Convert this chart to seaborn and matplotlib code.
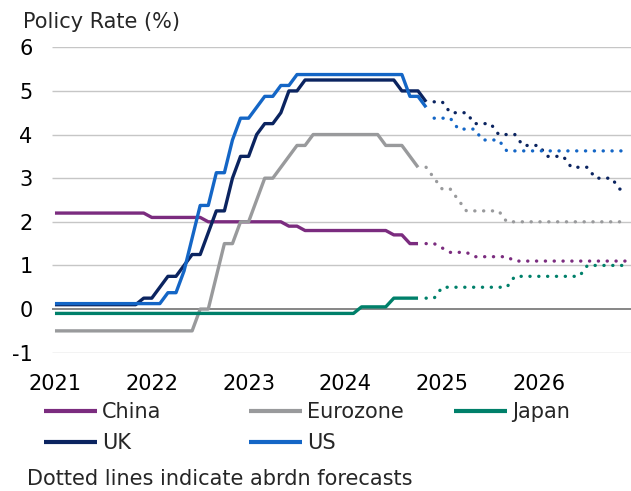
import numpy as np
import pandas as pd
import matplotlib
matplotlib.use("Agg")
import matplotlib.pyplot as plt
from matplotlib.lines import Line2D
import seaborn as sns

# Monthly policy rates, index 0 = Jan 2021
# Actual data (solid lines)
china_actual = [
    2.2, 2.2, 2.2, 2.2, 2.2, 2.2, 2.2, 2.2, 2.2, 2.2, 2.2, 2.2,   # 2021
    2.1, 2.1, 2.1, 2.1, 2.1, 2.1, 2.1, 2.0, 2.0, 2.0, 2.0, 2.0,   # 2022
    2.0, 2.0, 2.0, 2.0, 2.0, 1.9, 1.9, 1.8, 1.8, 1.8, 1.8, 1.8,   # 2023
    1.8, 1.8, 1.8, 1.8, 1.8, 1.8, 1.7, 1.7, 1.5, 1.5,             # 2024 to Oct
]
eurozone_actual = [
    -0.5, -0.5, -0.5, -0.5, -0.5, -0.5, -0.5, -0.5, -0.5, -0.5, -0.5, -0.5,
    -0.5, -0.5, -0.5, -0.5, -0.5, -0.5, 0.0, 0.0, 0.75, 1.5, 1.5, 2.0,
    2.0, 2.5, 3.0, 3.0, 3.25, 3.5, 3.75, 3.75, 4.0, 4.0, 4.0, 4.0,
    4.0, 4.0, 4.0, 4.0, 4.0, 3.75, 3.75, 3.75, 3.5, 3.25,
]
japan_actual = [
    -0.1, -0.1, -0.1, -0.1, -0.1, -0.1, -0.1, -0.1, -0.1, -0.1, -0.1, -0.1,
    -0.1, -0.1, -0.1, -0.1, -0.1, -0.1, -0.1, -0.1, -0.1, -0.1, -0.1, -0.1,
    -0.1, -0.1, -0.1, -0.1, -0.1, -0.1, -0.1, -0.1, -0.1, -0.1, -0.1, -0.1,
    -0.1, -0.1, 0.05, 0.05, 0.05, 0.05, 0.25, 0.25, 0.25, 0.25,
]
uk_actual = [
    0.1, 0.1, 0.1, 0.1, 0.1, 0.1, 0.1, 0.1, 0.1, 0.1, 0.1, 0.25,
    0.25, 0.5, 0.75, 0.75, 1.0, 1.25, 1.25, 1.75, 2.25, 2.25, 3.0, 3.5,
    3.5, 4.0, 4.25, 4.25, 4.5, 5.0, 5.0, 5.25, 5.25, 5.25, 5.25, 5.25,
    5.25, 5.25, 5.25, 5.25, 5.25, 5.25, 5.25, 5.0, 5.0, 5.0, 4.75,
]
us_actual = [
    0.125, 0.125, 0.125, 0.125, 0.125, 0.125, 0.125, 0.125, 0.125, 0.125, 0.125, 0.125,
    0.125, 0.125, 0.375, 0.375, 0.875, 1.625, 2.375, 2.375, 3.125, 3.125, 3.875, 4.375,
    4.375, 4.625, 4.875, 4.875, 5.125, 5.125, 5.375, 5.375, 5.375, 5.375, 5.375, 5.375,
    5.375, 5.375, 5.375, 5.375, 5.375, 5.375, 5.375, 5.375, 4.875, 4.875, 4.625,
]

# abrdn forecasts (dotted lines), starting the month after the last actual
china_forecast = [
    1.5, 1.5,                                                     # Nov-Dec 2024
    1.4, 1.3, 1.3, 1.3, 1.2, 1.2, 1.2, 1.2, 1.2, 1.1, 1.1, 1.1,   # 2025
    1.1, 1.1, 1.1, 1.1, 1.1, 1.1, 1.1, 1.1, 1.1, 1.1, 1.1, 1.1,   # 2026
]
eurozone_forecast = [
    3.25, 3.0,
    2.75, 2.75, 2.5, 2.25, 2.25, 2.25, 2.25, 2.25, 2.0, 2.0, 2.0, 2.0,
    2.0, 2.0, 2.0, 2.0, 2.0, 2.0, 2.0, 2.0, 2.0, 2.0, 2.0, 2.0,
]
japan_forecast = [
    0.25, 0.25,
    0.5, 0.5, 0.5, 0.5, 0.5, 0.5, 0.5, 0.5, 0.5, 0.75, 0.75, 0.75,
    0.75, 0.75, 0.75, 0.75, 0.75, 0.75, 1.0, 1.0, 1.0, 1.0, 1.0, 1.0,
]
uk_forecast = [
    4.75,
    4.75, 4.5, 4.5, 4.5, 4.25, 4.25, 4.25, 4.0, 4.0, 4.0, 3.75, 3.75,
    3.75, 3.5, 3.5, 3.5, 3.25, 3.25, 3.25, 3.0, 3.0, 3.0, 2.75, 2.75,
]
us_forecast = [
    4.375,
    4.375, 4.375, 4.125, 4.125, 4.125, 3.875, 3.875, 3.875, 3.625, 3.625, 3.625, 3.625,
    3.625, 3.625, 3.625, 3.625, 3.625, 3.625, 3.625, 3.625, 3.625, 3.625, 3.625, 3.625,
]

countries = ["China", "Eurozone", "Japan", "UK", "US"]
actual = [china_actual, eurozone_actual, japan_actual, uk_actual, us_actual]
forecast = [china_forecast, eurozone_forecast, japan_forecast, uk_forecast, us_forecast]
year_labels = ["2021", "2022", "2023", "2024", "2025", "2026"]

colors = {
    "China": "#7B2C7F",
    "Eurozone": "#999A9C",
    "Japan": "#00806A",
    "UK": "#0B2460",
    "US": "#1466C6",
}

# build long table
rows = []
for name, a, f in zip(countries, actual, forecast):
    for i, v in enumerate(a):
        rows.append((name, "actual", i, v))
    start = len(a)
    for i, v in enumerate(f):
        rows.append((name, "forecast", start + i, v))
df = pd.DataFrame(rows, columns=["country", "kind", "month", "rate"])

sns.set_style("white")
plt.rcParams["font.family"] = ["DejaVu Sans"]
plt.rcParams["lines.dash_capstyle"] = "round"
plt.rcParams["lines.solid_capstyle"] = "butt"

FS = 15

fig = plt.figure(figsize=(6.31, 4.91), dpi=100)
ax = fig.add_axes([0.0824, 0.2817, 0.9176, 0.622])

# gridlines
for v in range(-1, 7):
    if v == 0:
        ax.axhline(v, color="#868686", lw=1.4, zorder=1)
    else:
        ax.axhline(v, color="#C6C6C6", lw=1.0, zorder=1)

sns.lineplot(data=df, x="month", y="rate", hue="country", style="kind",
             hue_order=countries, palette=colors,
             dashes={"actual": "", "forecast": (0.05, 2.6)},
             linewidth=2.4, errorbar=None, legend=False, ax=ax, zorder=3)
for ln in ax.lines:
    ln.set_dash_capstyle("round")

ax.set_xlim(-0.37, 71.4)
ax.set_ylim(-1, 6)
ax.set_xticks(np.arange(0, 72, 12))
ax.set_xticklabels(year_labels)
ax.set_yticks(range(-1, 7))
ax.set_yticklabels([str(v) for v in range(-1, 7)])
ax.tick_params(axis="both", length=0, labelsize=FS, colors="black")
ax.tick_params(axis="y", pad=14)
ax.tick_params(axis="x", pad=15)
ax.set_xlabel("")
ax.set_ylabel("")
for s in ax.spines.values():
    s.set_visible(False)

fig.text(23 / 631, 1 - 28.3 / 491, "Policy Rate (%)", fontsize=FS, va="baseline", ha="left")
fig.text(27 / 631, 1 - 485 / 491, "Dotted lines indicate abrdn forecasts", fontsize=FS,
         va="baseline", ha="left")

# legend in three columns, placed like the original
groups = [(["China", "UK"], 44), (["Eurozone", "US"], 249), (["Japan"], 454)]
for names, xpx in groups:
    handles = [Line2D([], [], color=colors[n], lw=3.0) for n in names]
    fig.legend(handles, names, loc="upper left", bbox_to_anchor=(xpx / 631, 1 - 402 / 491),
               frameon=False, fontsize=FS, handlelength=2.55, handletextpad=0.24,
               borderpad=0, borderaxespad=0, labelspacing=0.52)

fig.savefig("out.png", dpi=100)
